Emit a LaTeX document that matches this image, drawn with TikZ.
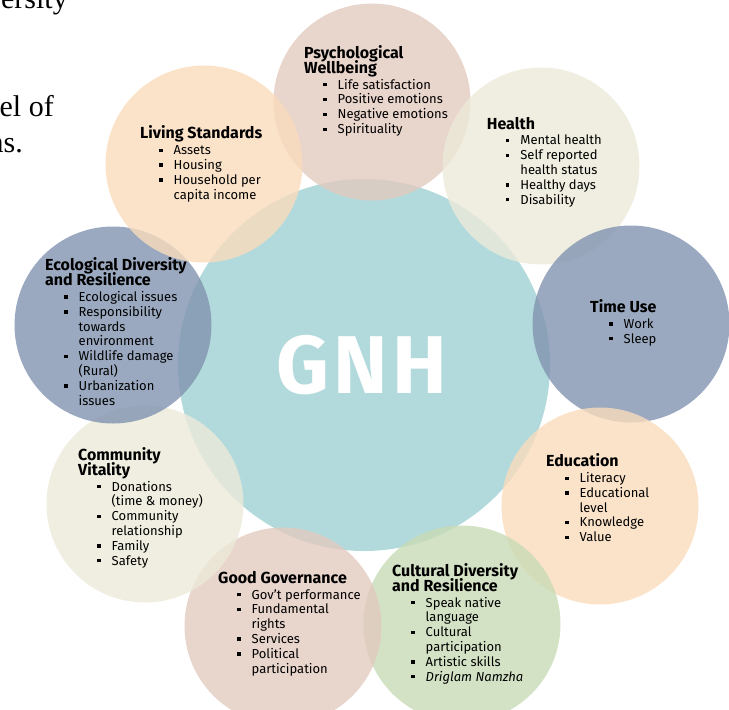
\documentclass[tikz,border=0pt]{standalone}
\usepackage{fontspec}
\setmainfont{Fira Sans}
\newfontfamily\pagefont{Liberation Serif}
\definecolor{gnhTeal}  {RGB}{159,209,211}
\definecolor{gnhSlate} {RGB}{129,147,176}
\definecolor{gnhPeach} {RGB}{249,220,188}
\definecolor{gnhSand}  {RGB}{236,234,217}
\definecolor{gnhRose}  {RGB}{226,202,191}
\definecolor{gnhSage}  {RGB}{200,219,181}
% lines in the labels keep a fixed spacing
\setlength{\lineskiplimit}{-20pt}
% heading line, bullet line, continuation line
\newcommand{\hd}[1]{{\bfseries\fontsize{16}{14.6}\selectfont #1}}
\newcommand{\bl}[1]{\hspace*{19pt}\makebox[14.5pt][l]{\rule[2.7pt]{3.3pt}{3.3pt}}#1}
\newcommand{\cn}[1]{\hspace*{33.5pt}#1}

\begin{document}
\begin{tikzpicture}[x=1pt,y=-1pt,
    ring/.style={circle,minimum size=197pt,inner sep=0pt,
                 fill opacity=0.8,draw=none},
    hub/.style={circle,minimum size=372pt,inner sep=0pt,
                fill=gnhTeal,fill opacity=0.8,draw=none},
    lbl/.style={anchor=base west,align=left,inner sep=0pt,
                font=\fontsize{13}{14.8}\selectfont},
    frag/.style={anchor=base east,inner sep=0pt,
                 font=\pagefont\fontsize{30}{36}\selectfont}]
  \useasboundingbox (0,0) rectangle (729,710);
  % page text behind the figure
  \node[frag] (fragA) at (68,8) {versity};
  \node[frag] (fragB) at (54,116.7) {el of};
  \node[frag] (fragC) at (23,152.5) {ns.};
  % circles
  \node[hub] (gnh) at (364,365) {};
  \node[ring,fill=gnhRose]  (psy) at (372,102) {};
  \node[ring,fill=gnhSand]  (hea) at (541,166) {};
  \node[ring,fill=gnhSlate] (tim) at (631,324) {};
  \node[ring,fill=gnhPeach] (edu) at (600,506) {};
  \node[ring,fill=gnhSage]  (cul) at (462,624) {};
  \node[ring,fill=gnhRose]  (gov) at (283,626) {};
  \node[ring,fill=gnhSand]  (com) at (145,504) {};
  \node[ring,fill=gnhSlate] (eco) at (113,325) {};
  \node[ring,fill=gnhPeach] (liv) at (204,164) {};
  \node[text=white,font=\bfseries\fontsize{82}{82}\selectfont
        \addfontfeatures{LetterSpace=5}] (gnhT) at (362,365) {GNH};
  % labels (anchored on the baseline of their last line)
  \node[lbl] (psyT) at (304,133.5) {\hd{Psychological}\\\hd{Wellbeing}\\[1pt]
    \bl{Life satisfaction}\\\bl{Positive emotions}\\
    \bl{Negative emotions}\\\bl{Spirituality}};
  \node[lbl] (livT) at (140,199) {\hd{Living Standards}\\[1pt]
    \bl{Assets}\\\bl{Housing}\\\bl{Household per}\\\cn{capita income}};
  \node[lbl] (heaT) at (486.7,204) {\hd{Health}\\[1pt]
    \bl{Mental health}\\\bl{Self reported}\\\cn{health status}\\
    \bl{Healthy days}\\\bl{Disability}};
  \node[lbl] (ecoT) at (45,405) {\hd{Ecological Diversity}\\
    \hd{and Resilience}\\[1pt]\bl{Ecological issues}\\\bl{Responsibility}\\
    \cn{towards}\\\cn{environment}\\\bl{Wildlife damage}\\\cn{(Rural)}\\
    \bl{Urbanization}\\\cn{issues}};
  \node[lbl] (timT) at (590,343) {\hd{Time Use}\\[1pt]\bl{Work}\\\bl{Sleep}};
  \node[lbl] (comT) at (78,565) {\hd{Community}\\\hd{Vitality}\\[1pt]
    \bl{Donations}\\\cn{(time \& money)}\\\bl{Community}\\
    \cn{relationship}\\\bl{Family}\\\bl{Safety}};
  \node[lbl] (eduT) at (546,541.7) {\hd{Education}\\[1pt]\bl{Literacy}\\
    \bl{Educational}\\\cn{level}\\\bl{Knowledge}\\\bl{Value}};
  \node[lbl] (govT) at (218,673) {\hd{Good Governance}\\[1pt]
    \bl{Gov’t performance}\\\bl{Fundamental}\\\cn{rights}\\
    \bl{Services}\\\bl{Political}\\\cn{participation}};
  \node[lbl] (culT) at (392,681) {\hd{Cultural Diversity}\\
    \hd{and Resilience}\\[1pt]\bl{Speak native}\\\cn{language}\\
    \bl{Cultural}\\\cn{participation}\\\bl{Artistic skills}\\
    \bl{\textit{Driglam Namzha}}};
\end{tikzpicture}
\end{document}
